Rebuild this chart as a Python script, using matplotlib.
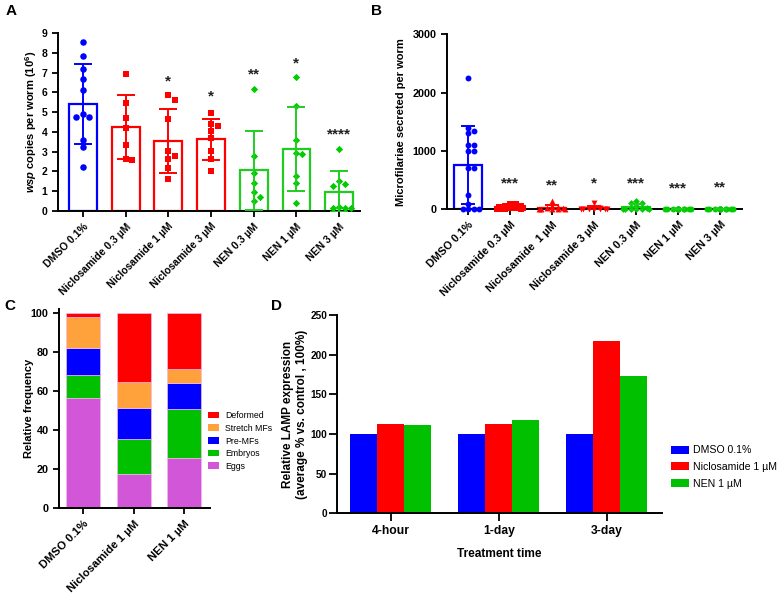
import numpy as np
import matplotlib
matplotlib.use("Agg")
import matplotlib.pyplot as plt
from matplotlib.patches import Patch

plt.rcParams['font.family'] = ['Liberation Sans', 'DejaVu Sans']
plt.rcParams['mathtext.fontset'] = 'custom'
plt.rcParams['mathtext.rm'] = 'Liberation Sans:bold'
plt.rcParams['mathtext.it'] = 'Liberation Sans:italic:bold'
plt.rcParams['mathtext.bf'] = 'Liberation Sans:bold'

BLUE = '#0000FF'
RED = '#FF0000'
GREEN = '#1FCC1F'

# ---------------- Panel A data ----------------
a_labels = ["DMSO 0.1%", "Niclosamide 0.3 µM", "Niclosamide 1 µM", "Niclosamide 3 µM",
            "NEN 0.3 µM", "NEN 1 µM", "NEN 3 µM"]
a_dmso = [8.53, 7.86, 7.17, 6.66, 6.10, 4.92, 4.76, 4.76, 3.58, 3.24, 2.25]
a_nic03 = [6.95, 5.47, 4.71, 4.19, 3.32, 2.59, 2.62]
a_nic1 = [5.86, 5.59, 4.66, 3.05, 2.63, 2.76, 2.17, 1.64]
a_nic3 = [4.95, 4.39, 4.30, 4.06, 3.69, 3.01, 2.64, 2.02]
a_nen03 = [6.16, 2.80, 1.90, 1.40, 0.97, 0.73, 0.51]
a_nen1 = [6.77, 5.32, 3.59, 2.94, 2.87, 1.78, 1.44, 0.39]
a_nen3 = [3.11, 1.52, 1.28, 1.35, 0.15, 0.22, 0.15, 0.15]
a_points = [a_dmso, a_nic03, a_nic1, a_nic3, a_nen03, a_nen1, a_nen3]
a_means = [5.40, 4.24, 3.52, 3.62, 2.05, 3.13, 0.98]
a_sds = [2.02, 1.60, 1.62, 1.02, 1.98, 2.13, 1.05]
a_stars = ["", "", "*", "*", "**", "*", "****"]
a_star_y = [0, 0, 6.54, 5.78, 6.88, 7.47, 3.86]

# ---------------- Panel B data ----------------
b_labels = ["DMSO 0.1%", "Niclosamide 0.3 µM", "Niclosamide  1 µM", "Niclosamide 3 µM",
            "NEN 0.3 µM", "NEN 1 µM", "NEN 3 µM"]
b_dmso = [2250, 1400, 1350, 1300, 1100, 1100, 1000, 1000, 710, 710, 250, 90, 0, 0, 0, 0]
b_nic03 = [90, 85, 60, 50, 40, 30, 20, 15, 10, 5, 0, 0]
b_nic1 = [140, 50, 40, 30, 20, 10, 5, 0, 0, 0]
b_nic3 = [110, 30, 20, 10, 5, 0, 0, 0, 0, 0]
b_nen03 = [150, 110, 100, 55, 30, 10, 0, 0, 0, 0, 0]
b_nen1 = [5, 3, 0, 0, 0, 0, 0, 0, 0, 0, 0, 0]
b_nen3 = [4, 2, 0, 0, 0, 0, 0, 0, 0, 0, 0, 0]
b_points = [b_dmso, b_nic03, b_nic1, b_nic3, b_nen03, b_nen1, b_nen3]
b_means = [755, 38, 30, 18, 42, 1, 1]
b_sds = [665, 30, 42, 35, 50, 2, 2]
b_stars = ["", "***", "**", "*", "***", "***", "**"]
b_star_y = [0, 446, 417, 446, 446, 360, 370]

# ---------------- Panel C data ----------------
c_labels = ["DMSO 0.1%", "Niclosamide 1 µM", "NEN 1 µM"]
c_stages = ["Eggs", "Embryos", "Pre-MFs", "Stretch MFs", "Deformed"]
c_eggs = [56.6, 17.7, 25.8]
c_embryos = [11.6, 17.7, 25.1]
c_premfs = [13.8, 15.9, 13.5]
c_stretch = [16.3, 13.3, 6.9]
c_deformed = [1.7, 35.4, 28.7]

# ---------------- Panel D data ----------------
d_times = ["4-hour", "1-day", "3-day"]
d_series = ["DMSO 0.1%", "Niclosamide 1 µM", "NEN 1 µM"]
d_dmso = [100, 100, 100]
d_nic = [113, 112.8, 217]
d_nen = [110.7, 117.4, 172.6]

fig = plt.figure(figsize=(7.79, 5.98), dpi=100)
W, H = 779, 598


def axes_px(l, r, b, t):
    return fig.add_axes([l / W, 1 - b / H, (r - l) / W, (b - t) / H])


def style(ax, fs=7.5, xfs=None, length=4.5, pad=3):
    for s in ['top', 'right']:
        ax.spines[s].set_visible(False)
    for s in ['left', 'bottom']:
        ax.spines[s].set_linewidth(1.4)
    ax.tick_params(direction='out', width=1.3, length=length, labelsize=fs, pad=pad)
    if xfs is not None:
        ax.tick_params(axis='x', labelsize=xfs, pad=3)
    for lab in ax.get_yticklabels() + ax.get_xticklabels():
        lab.set_fontweight('bold')


def swarm(vals, ypx, xpx, diam, maxhalf):
    vals = np.asarray(vals, float)
    order = np.argsort(-vals)
    placed = []
    offs = np.zeros(len(vals))
    cands = [0.0]
    for k in range(1, 12):
        cands += [k * diam, -k * diam]
    cands = [max(-maxhalf, min(maxhalf, c)) for c in cands]
    for i in order:
        y = vals[i] * ypx
        best, bestd = 0.0, -1
        for c in cands:
            d = min([np.hypot(c - px, y - py) for px, py in placed] + [1e9])
            if d >= diam * 0.95:
                best = c
                break
            if d > bestd:
                bestd, best = d, c
        placed.append((best, y))
        offs[i] = best / xpx
    return offs


def ylabel_right_at(ax, xpix, l, r):
    ax.yaxis.set_label_coords((xpix - l) / (r - l), 0.5)


# ---------------- Panel A ----------------
axA = axes_px(58, 360, 211, 33)
xa = np.arange(len(a_labels))
a_cols = [BLUE, RED, RED, RED, GREEN, GREEN, GREEN]
a_marks = ['o', 's', 's', 's', 'D', 'D', 'D']
a_ptcols = [BLUE, RED, RED, RED, '#00CC00', '#00CC00', '#00CC00']
axA.set_xlim(-0.585, 6.49)
axA.set_ylim(0, 9)
axA.bar(xa, a_means, width=0.65, facecolor='white', edgecolor=a_cols, linewidth=1.6, zorder=2)
ypx_a = 178 / 9.0
xpx_a = 42.7
for i, pts in enumerate(a_points):
    offs = swarm(pts, ypx_a, xpx_a, 6.5 if a_marks[i] != 'D' else 6.0, 14)
    axA.scatter(xa[i] + offs, pts, marker=a_marks[i], s=22 if a_marks[i] != 'D' else 14,
                color=a_ptcols[i], zorder=3, clip_on=False, linewidths=0)
    axA.errorbar(xa[i], a_means[i], yerr=a_sds[i], color=a_cols[i], capsize=6.5,
                 elinewidth=1.4, capthick=1.4, zorder=4)
    if a_stars[i]:
        axA.text(xa[i], a_star_y[i], a_stars[i], ha='center', va='center', fontsize=11,
                 fontweight='bold', color='#222222')
axA.set_yticks(range(0, 10))
axA.set_xticks(xa)
axA.set_xticklabels(a_labels, rotation=45, ha='right', rotation_mode='anchor')
axA.set_ylabel(r"$\mathit{wsp}$ copies per worm (10$^{6}$)", fontsize=8, fontweight='bold')
ylabel_right_at(axA, 39, 58, 360)
style(axA)

# ---------------- Panel B ----------------
axB = axes_px(447, 742, 209.3, 34.3)
xb = np.arange(len(b_labels))
b_cols = [BLUE, RED, RED, RED, GREEN, GREEN, GREEN]
b_marks = ['o', 's', '^', 'v', 'D', 'o', 'o']
b_ptcols = [BLUE, RED, RED, RED, '#00CC00', '#00CC00', '#00CC00']
axB.set_xlim(-0.5, 6.52)
axB.set_ylim(0, 3000)
axB.bar(xb, b_means, width=0.66, facecolor='white', edgecolor=b_cols, linewidth=1.6, zorder=2)
ypx_b = 175.0 / 3000
xpx_b = 42.0
for i, pts in enumerate(b_points):
    offs = swarm(pts, ypx_b, xpx_b, 5.5, 13)
    axB.scatter(xb[i] + offs, pts, marker=b_marks[i], s=18 if b_marks[i] != 'D' else 12,
                color=b_ptcols[i], zorder=3, clip_on=False, linewidths=0)
    axB.errorbar(xb[i], b_means[i], yerr=b_sds[i], color=b_cols[i], capsize=5,
                 elinewidth=1.4, capthick=1.4, zorder=4)
    if b_stars[i]:
        axB.text(xb[i], b_star_y[i], b_stars[i], ha='center', va='center', fontsize=11,
                 fontweight='bold', color='#222222')
axB.set_yticks([0, 1000, 2000, 3000])
axB.set_xticks(xb)
axB.set_xticklabels(b_labels, rotation=45, ha='right', rotation_mode='anchor')
axB.set_ylabel("Microfilariae secreted per worm", fontsize=8, fontweight='bold')
ylabel_right_at(axB, 406, 447, 742)
style(axB, fs=7.8)

# ---------------- Panel C ----------------
axC = axes_px(59, 210, 508.3, 309.4)
xc = np.arange(len(c_labels))
c_vals = [c_eggs, c_embryos, c_premfs, c_stretch, c_deformed]
c_cols = ['#D157D8', '#00C000', '#0000FF', '#FFA23C', '#FF0000']
bottom = np.zeros(len(c_labels))
handles = []
for vals, col, name in zip(c_vals, c_cols, c_stages):
    axC.bar(xc, vals, bottom=bottom, width=0.67, color=col, edgecolor='#F4B8F0', linewidth=0.5)
    bottom += np.array(vals)
    handles.append(Patch(facecolor=col, edgecolor='none', label=name))
axC.set_xlim(-0.475, 2.51)
axC.set_ylim(0, 102)
axC.set_yticks([0, 20, 40, 60, 80, 100])
axC.set_xticks(xc)
axC.set_xticklabels(c_labels, rotation=45, ha='right', rotation_mode='anchor')
axC.set_ylabel("Relative frequency", fontsize=8, fontweight='bold')
ylabel_right_at(axC, 34, 59, 210)
style(axC, fs=7.8, xfs=8.2)
fig.legend(handles=handles[::-1], loc='center left', bbox_to_anchor=(208 / W, 1 - 441 / H),
           frameon=False, fontsize=6.3, borderpad=0, borderaxespad=0, handlelength=1.26,
           handleheight=0.8, handletextpad=0.69, labelspacing=0.42)

# ---------------- Panel D ----------------
axD = axes_px(337, 662, 513.3, 315)
xd = np.arange(len(d_times))
bw = 0.25
for k, (vals, col, name) in enumerate(zip([d_dmso, d_nic, d_nen], [BLUE, RED, '#00C000'], d_series)):
    axD.bar(xd + (k - 1) * bw, vals, width=bw, color=col, label=name)
axD.set_xlim(-0.5, 2.51)
axD.set_ylim(0, 250)
axD.set_yticks([0, 50, 100, 150, 200, 250])
axD.set_xticks(xd)
axD.set_xticklabels(d_times)
axD.set_xlabel("Treatment time", fontsize=8.6, fontweight='bold', labelpad=8)
axD.set_ylabel("Relative LAMP expression\n(average % vs. control , 100%)", fontsize=8.5,
               fontweight='bold')
ylabel_right_at(axD, 307.5, 337, 662)
style(axD, fs=7.2, xfs=8.7, length=5.5, pad=1.5)
h, l = axD.get_legend_handles_labels()
fig.legend(h, l, loc='center left', bbox_to_anchor=(671 / W, 1 - 467 / H), frameon=False,
           fontsize=7.6, borderpad=0, borderaxespad=0, handlelength=1.7, handleheight=0.75,
           handletextpad=0.4, labelspacing=0.62)

# panel letters
for txt, x, y in [("A", 11, 11), ("B", 377, 11), ("C", 10, 306), ("D", 276, 306)]:
    fig.text(x / W, 1 - y / H, txt, fontsize=11, fontweight='bold', ha='center', va='center')

fig.savefig("out.png", dpi=100)
